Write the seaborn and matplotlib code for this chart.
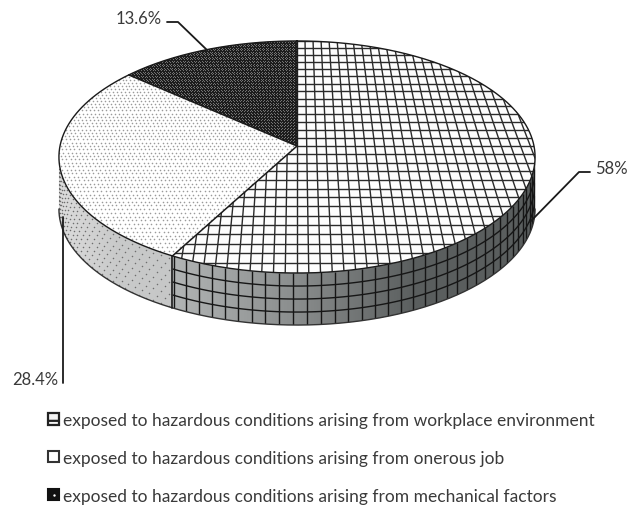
import numpy as np
import matplotlib
matplotlib.use("Agg")
import matplotlib.pyplot as plt
from matplotlib.collections import LineCollection
from matplotlib.patches import Patch, Polygon
from matplotlib.colors import ListedColormap
import seaborn as sns

categories = [
    "exposed to hazardous conditions arising from workplace environment",
    "exposed to hazardous conditions arising from onerous job",
    "exposed to hazardous conditions arising from mechanical factors",
]
values = [58, 28.4, 13.6]
value_labels = ["58%", "28.4%", "13.6%"]

sns.set_theme(style="white")
plt.rcParams["font.family"] = ["Lato", "DejaVu Sans"]
plt.rcParams["hatch.linewidth"] = 1.6

CX, CY, S, A, K, DEPTH = 297.0, 147.0, 237.0, 115.0, 0.0948, 52.0
INK = "#1a1a1a"
TXT = "#3a3a3a"


def project(u, v):
    """Disc coordinates (v away from the viewer) to the tilted perspective view."""
    d = 1 + K * np.asarray(v)
    return CX + S * np.asarray(u) / d, CY - A * np.asarray(v) / d


def rim(t0, t1, n=160):
    th = np.radians(np.linspace(t0, t1, n))
    return project(np.sin(th), np.cos(th))


fig = plt.figure(figsize=(6.28, 5.06), dpi=100)
ax = fig.add_axes([0, 0, 1, 1])
ax.set_xlim(0, 628)
ax.set_ylim(506, 0)
ax.axis("off")

edges = np.concatenate([[0], np.cumsum(values)]) / np.sum(values) * 360
t_right = np.degrees(np.arccos(-K))
t_left = 360 - t_right

# top faces
polys = []
for i in range(3):
    x, y = rim(edges[i], edges[i + 1])
    polys.append(np.column_stack([np.r_[CX, x], np.r_[CY, y]]))
top_colors = ["#fdfdfd", "#ffffff", "#1d1d1d"]
patches = []
for xy, c in zip(polys, top_colors):
    p = Polygon(xy, closed=True, facecolor=c, edgecolor="none", zorder=2)
    ax.add_patch(p)
    patches.append(p)

# grid texture on the largest slice, fanning toward the viewer
segs = []
for i in range(-30, 31):
    ends_x = np.array([CX + i * 8.0, CX + i * 11.8])
    ends_y = np.array([40.0, 276.0])
    segs.append(np.column_stack([ends_x, ends_y]))
for j in range(-16, 17):
    px, py = project(np.array([-1.1, 1.1]), np.full(2, j * 0.0715))
    segs.append(np.column_stack([px, py]))
lc = LineCollection(segs, colors="#2b2b2b", linewidths=1.0, zorder=3)
ax.add_collection(lc)
lc.set_clip_path(patches[0])

# stipple textures
gu, gv = np.meshgrid(np.arange(-62, 63) * 0.0175, np.arange(-36, 37) * 0.029)
gu = gu + (np.arange(gu.shape[0])[:, None] % 2) * 0.00875
dx, dy = project(gu.ravel(), gv.ravel())
sc1 = ax.scatter(dx, dy, s=1.3, c="#9a9a9a", linewidths=0, zorder=3)
sc1.set_clip_path(patches[1])
hu, hv = np.meshgrid(np.arange(-84, 85) * 0.0125, np.arange(-80, 81) * 0.0135)
hu = hu + (np.arange(hu.shape[0])[:, None] % 2) * 0.00625
ex, ey = project(hu.ravel(), hv.ravel())
sc2 = ax.scatter(ex, ey, s=0.45, c="#808080", linewidths=0, zorder=3)
sc2.set_clip_path(patches[2])

# side walls with shading
wall_a = sns.blend_palette(["#b2b5b5", "#8b8e8e", "#5b5f5f", "#5a5e5e"], 256)
wall_b = sns.blend_palette(["#dcdcdc", "#c9caca", "#c6c7c7"], 256)
ranges = [(t_right, edges[1]), (edges[1], t_left)]
cmaps = [ListedColormap(wall_a), ListedColormap(wall_b)]
extents = [(172, 536), (58, 174)]
walls = []
for (t0, t1), cm, ext in zip(ranges, cmaps, extents):
    x, y = rim(t0, t1)
    xy = np.column_stack([np.r_[x, x[::-1]], np.r_[y, y[::-1] + DEPTH]])
    p = Polygon(xy, closed=True, facecolor="none", edgecolor="none", zorder=1)
    ax.add_patch(p)
    im = ax.imshow(np.linspace(0, 1, 256)[None, :], cmap=cm, aspect="auto",
                   extent=(ext[0], ext[1], 340, 140), zorder=1)
    im.set_clip_path(p)
    walls.append(p)
ax.set_xlim(0, 628)
ax.set_ylim(506, 0)

# wall grid
wsegs = []
for t in np.arange(t_right, edges[1], 3.05):
    px, py = project(np.sin(np.radians(t)), np.cos(np.radians(t)))
    wsegs.append([(px, py), (px, py + DEPTH)])
x, y = rim(t_right, edges[1])
for f in (0.25, 0.5, 0.75):
    wsegs.append(np.column_stack([x, y + DEPTH * f]))
wc = LineCollection(wsegs, colors="#161616", linewidths=1.0, zorder=3)
ax.add_collection(wc)
wc.set_clip_path(walls[0])

# wall stipple
tt, ff = np.meshgrid(np.arange(edges[1] + 1, t_left, 2.1), np.arange(0.06, 1, 0.115))
tt = tt + (np.arange(tt.shape[0])[:, None] % 2) * 1.05
wx, wy = project(np.sin(np.radians(tt)), np.cos(np.radians(tt)))
sc3 = ax.scatter(wx.ravel(), (wy + DEPTH * ff).ravel(), s=1.2, c="#6e6e6e", linewidths=0, zorder=3)
sc3.set_clip_path(walls[1])

# outlines
x, y = rim(0, 360, 400)
ax.plot(x, y, color=INK, lw=1.0, zorder=4)
x, y = rim(t_right, t_left, 300)
ax.plot(x, y + DEPTH, color="#333333", lw=1.0, zorder=4)
for e in edges[:3]:
    px, py = project(np.sin(np.radians(e)), np.cos(np.radians(e)))
    ax.plot([CX, px], [CY, py], color=INK, lw=1.1, zorder=4)
px, py = project(np.sin(np.radians(edges[1])), np.cos(np.radians(edges[1])))
ax.plot([px, px], [py, py + DEPTH], color=INK, lw=1.2, zorder=4)

# leaders and value labels
ax.plot([530, 579, 590], [223, 173, 173], color=INK, lw=1.3, zorder=5)
ax.plot([167, 178, 207], [23, 23, 51], color=INK, lw=1.3, zorder=5)
ax.plot([63, 63], [218, 384], color=INK, lw=1.3, zorder=5)
fs = 12.5
vfs = 12.0
ax.text(595, 169, value_labels[0], ha="left", va="center", fontsize=vfs, color=TXT)
ax.text(58, 380, value_labels[1], ha="right", va="center", fontsize=vfs, color=TXT)
ax.text(162, 19, value_labels[2], ha="right", va="center", fontsize=vfs, color=TXT)

# legend
handles = [
    Patch(facecolor="#f4f4f4", edgecolor="#222222", lw=1.6, hatch="--"),
    Patch(facecolor="white", edgecolor="#333333", lw=1.5),
    Patch(facecolor="#111111", edgecolor="#111111", lw=1.5),
]
ax.legend(handles, categories, loc="upper left", bbox_to_anchor=(48 / 628, 1 - 413 / 506),
          frameon=False, fontsize=fs, labelcolor=TXT, handlelength=0.62, handleheight=0.62,
          handletextpad=0.25, labelspacing=1.26, borderaxespad=0, borderpad=0)
ax.scatter([54], [496], s=3, c="white", linewidths=0, zorder=6)

fig.savefig("out.png", dpi=100, facecolor="white")
